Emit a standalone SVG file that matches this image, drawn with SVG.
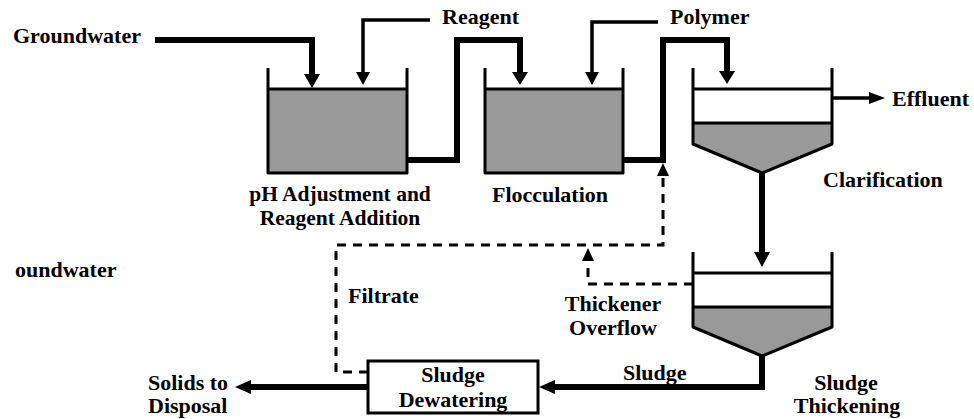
<svg xmlns="http://www.w3.org/2000/svg" width="974" height="419" viewBox="0 0 974 419">
<style>
  text { font-family: "Liberation Serif", "Times New Roman", serif; font-weight: bold; font-size: 22px; fill: #000; }
  .c { text-anchor: middle; }
  .sm { font-size: 21.5px; }
  .wall { fill: none; stroke: #000; stroke-width: 3; stroke-linejoin: round; stroke-linecap: butt; }
  .liq { fill: #999999; stroke: none; }
  .ln { stroke: #000; stroke-width: 3; fill: none; }
  .pipe { fill: none; stroke: #000; stroke-width: 6; stroke-linejoin: miter; }
  .feed { fill: none; stroke: #000; stroke-width: 3.5; stroke-linejoin: miter; }
  .dash { fill: none; stroke: #000; stroke-width: 3; stroke-dasharray: 9 7; }
  .ah { fill: #000; stroke: none; }
  .box { fill: #fff; stroke: #000; stroke-width: 3; }
</style>
<rect width="974" height="419" fill="#fff"/>

<g id="ph-tank">
  <rect class="liq" x="268" y="89" width="139" height="84"/>
  <path class="wall" d="M268,68 V173 H407 V68"/>
  <line class="ln" x1="268" y1="89" x2="407" y2="89"/>
  <text class="c sm" x="340" y="201">pH Adjustment and</text>
  <text class="c sm" x="340" y="225">Reagent Addition</text>
</g>

<g id="floc-tank">
  <rect class="liq" x="485" y="89" width="138" height="84"/>
  <path class="wall" d="M485,68 V173 H623 V68"/>
  <line class="ln" x1="485" y1="89" x2="623" y2="89"/>
  <text class="c" x="550" y="202">Flocculation</text>
</g>

<g id="clarifier">
  <path class="liq" d="M693,123 H832 V144 L762,173 L693,144 Z"/>
  <path class="wall" d="M693,68 V144 L762,173 L832,144 V68"/>
  <line class="ln" x1="693" y1="89" x2="832" y2="89"/>
  <line class="ln" x1="693" y1="123" x2="832" y2="123"/>
  <text x="823" y="187">Clarification</text>
</g>

<g id="thickener">
  <path class="liq" d="M693,307 H832 V327 L762,356 L693,327 Z"/>
  <path class="wall" d="M693,252 V327 L762,356 L832,327 V252"/>
  <line class="ln" x1="693" y1="273" x2="832" y2="273"/>
  <line class="ln" x1="693" y1="307" x2="832" y2="307"/>
  <text class="c" x="846" y="390">Sludge</text>
  <text class="c" x="847" y="413">Thickening</text>
</g>

<g id="dewatering">
  <rect class="box" x="368" y="361" width="170" height="52"/>
  <text class="c" x="453" y="382">Sludge</text>
  <text class="c" x="453" y="407">Dewatering</text>
</g>

<g id="labels">
  <text x="13" y="43">Groundwater</text>
  <text x="442" y="24">Reagent</text>
  <text x="670" y="24">Polymer</text>
  <text x="892" y="106">Effluent</text>
  <text x="15" y="277">oundwater</text>
  <text x="348" y="303">Filtrate</text>
  <text class="c" x="613" y="311">Thickener</text>
  <text class="c" x="613" y="335">Overflow</text>
  <text x="623" y="380">Sludge</text>
  <text x="148" y="390">Solids to</text>
  <text x="148" y="413">Disposal</text>
</g>

<g id="connectors">
  <path class="pipe" d="M155,40 H312 V75"/>
  <polygon class="ah" points="304,74 320,74 312,88"/>

  <path class="feed" d="M430,20 H363 V73"/>
  <polygon class="ah" points="356,72 370,72 363,85"/>

  <path class="pipe" d="M407,160 H457 V40 H520 V73"/>
  <polygon class="ah" points="512,72 528,72 520,85"/>

  <path class="feed" d="M658,22 H592 V73"/>
  <polygon class="ah" points="585,72 599,72 592,85"/>

  <path class="pipe" d="M623,160 H663 V40 H727 V72"/>
  <polygon class="ah" points="719,71 735,71 727,84"/>

  <path class="feed" d="M832,98 H870"/>
  <polygon class="ah" points="869,92 869,104 885,98"/>

  <path class="pipe" d="M762,173 V253"/>
  <polygon class="ah" points="754,252 770,252 762,267"/>

  <path class="pipe" d="M762,356 V387 H554"/>
  <polygon class="ah" points="555,380 555,394 539,387"/>

  <path class="pipe" d="M368,387 H250"/>
  <polygon class="ah" points="251,380 251,394 235,387"/>

  <path class="dash" d="M368,372 H336 V245 H663 V176"/>
  <polygon class="ah" points="657,176 669,176 663,163"/>

  <path class="dash" d="M693,284 H588 V262"/>
  <polygon class="ah" points="582,261 594,261 588,248"/>
</g>
</svg>
